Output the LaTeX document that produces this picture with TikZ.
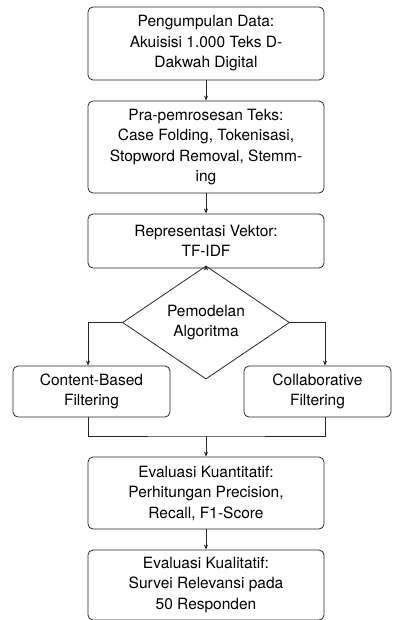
\documentclass[tikz,border=0pt]{standalone}
\usepackage{fontspec}
\setmainfont{TeX Gyre Heros}
\usetikzlibrary{shapes.geometric, arrows.meta, positioning}

\tikzset{
    stepbox/.style={draw=black!85, rounded corners=5pt, line width=0.8pt, align=center,
        minimum width=236pt, inner sep=2pt},
    sidebox/.style={draw=black!85, rounded corners=5pt, line width=0.8pt, align=center,
        minimum height=51pt, inner sep=2pt},
    decision/.style={draw=black!85, diamond, line width=0.8pt, align=center, inner sep=0pt,
        minimum width=167pt, minimum height=67pt},
    flow/.style={draw=black!85, line width=0.8pt, -{Stealth[length=5pt,width=4pt]}},
    plain/.style={draw=black!85, line width=0.8pt}
}

\begin{document}
\begin{tikzpicture}[x=1pt, y=-1pt, font=\fontsize{15.5}{20.5}\selectfont]
        \useasboundingbox (0,0) rectangle (392,620);

        % Main column
        \node[stepbox, minimum height=73pt] (data) at (206, 43.5) {Pengumpulan Data:\\Akuisisi 1.000 Teks D-\\Dakwah Digital};
        \node[stepbox, minimum height=92pt] (prep) at (206, 147) {Pra-pemrosesan Teks:\\Case Folding, Tokenisasi,\\Stopword Removal, Stemm-\\ing};
        \node[stepbox, minimum height=54pt] (vec) at (206, 241) {Representasi Vektor:\\TF-IDF};
        \node[decision] (model) at (206, 322.5) {Pemodelan\\Algoritma};

        % Two branches
        \node[sidebox, minimum width=157pt] (cbf) at (91.5, 391.5) {Content-Based\\Filtering};
        \node[sidebox, minimum width=147pt] (cf) at (317.5, 391.5) {Collaborative\\Filtering};
        \coordinate (merge) at (206, 436);

        % Evaluation
        \node[stepbox, minimum height=72pt] (quant) at (206, 493) {Evaluasi Kuantitatif:\\Perhitungan Precision,\\Recall, F1-Score};
        \node[stepbox, minimum height=70pt] (qual) at (206, 585) {Evaluasi Kualitatif:\\Survei Relevansi pada\\50 Responden};

        % Connectors
        \draw[flow] (data) -- (prep);
        \draw[flow] (prep) -- (vec);
        \draw[flow] (vec) -- (model);
        \draw[flow] (model.west) -| ([xshift=-3.5pt]cbf.north);
        \draw[flow] (model.east) -| ([xshift=7.5pt]cf.north);
        \draw[plain] ([xshift=-3.5pt]cbf.south) |- (merge) -| ([xshift=7.5pt]cf.south);
        \draw[flow] (merge) -- (quant);
        \draw[flow] (quant) -- (qual);
    \end{tikzpicture}
\end{document}
